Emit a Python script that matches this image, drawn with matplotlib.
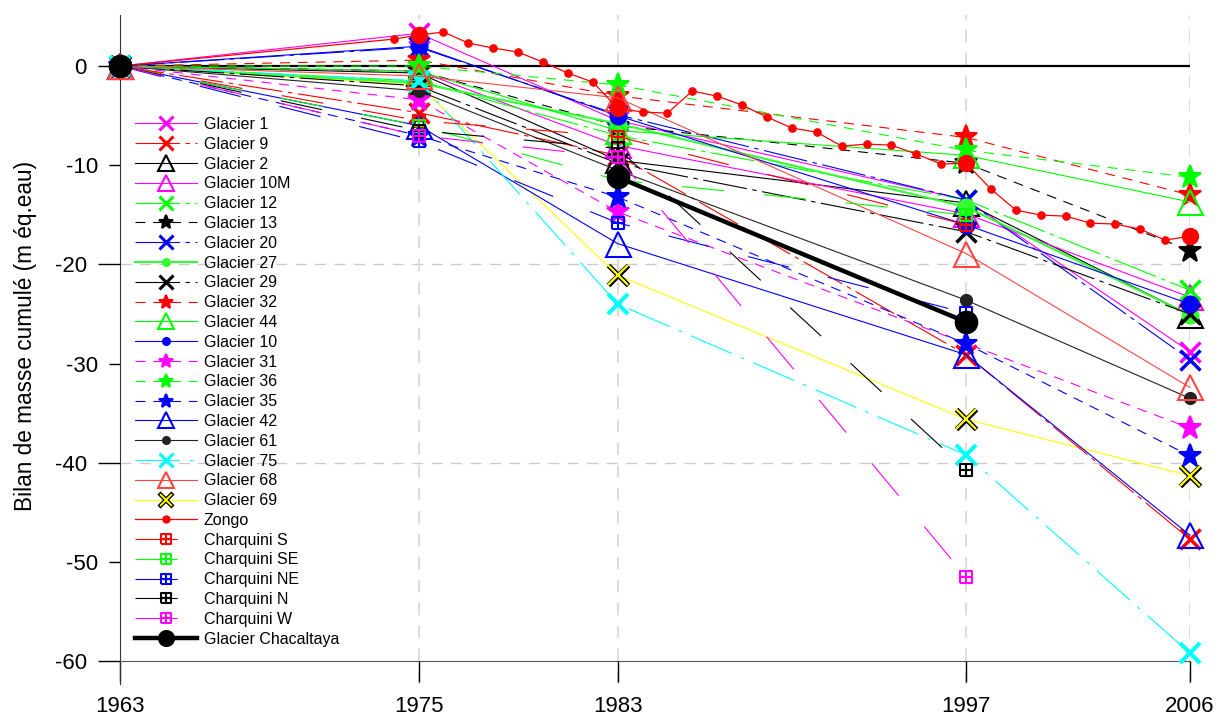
import numpy as np
import matplotlib.pyplot as plt
from matplotlib.lines import Line2D
from matplotlib.path import Path

years = [1963, 1975, 1983, 1997, 2006]
nan = np.nan

# cumulative mass balance (m w.e.) at survey years
g1 = [0, 3.3, -5.5, -13.5, -28.8]
g9 = [0, -4.7, -9.0, -29.1, -47.7]
g2 = [0, -0.7, -9.5, -13.8, -25.1]
g10m = [0, -0.5, -8.0, -14.9, -23.3]
g12 = [0, -1.5, -7.0, -13.5, -22.6]
g13 = [0, -0.5, -6.0, -9.8, -18.6]
g20 = [0, 1.9, -4.9, -13.5, -29.6]
g27 = [0, -1.7, -5.8, -14.2, -25.1]
g29 = [0, -2.0, -9.8, -16.7, -25.0]
g32 = [0, 0.6, -3.0, -7.2, -13.0]
g44 = [0, -0.5, -6.5, -9.0, -13.7]
g10 = [0, 2.0, -5.0, -16.0, -24.0]
g31 = [0, -3.4, -14.7, nan, -36.5]
g36 = [0, 0.0, -1.9, -8.5, -11.2]
g35 = [0, -7.0, -13.2, -28.0, -39.3]
g42 = [0, -6.0, -17.9, -29.1, -47.3]
g61 = [0, -2.5, -10.5, -23.6, -33.5]
g75 = [0, -1.5, -24.0, -39.2, -59.2]
g68 = [0, -1.0, -3.2, -18.9, -32.4]
g69 = [0, -1.9, -21.1, -35.6, -41.3]
charq_s = [0, -5.5, -7.1, -16.0, nan]
charq_se = [0, -6.0, -11.5, -15.0, nan]
charq_ne = [0, -7.6, -15.8, -24.9, nan]
charq_n = [0, -6.5, -8.3, -40.7, nan]
charq_w = [0, -7.0, -9.2, -51.5, nan]
chacaltaya = [0, nan, -11.2, -25.8, nan]

zongo_years = [1963] + list(range(1974, 2007))
zongo = [0, 2.72, 3.13, 3.43, 2.32, 1.82, 1.41, 0.40, -0.71, -1.61, -4.24,
         -4.64, -4.74, -2.52, -3.03, -3.93, -5.14, -6.25, -6.66, -8.07,
         -7.87, -7.97, -8.87, -9.88, -9.78, -12.40, -14.52, -15.02, -15.13,
         -15.83, -15.93, -16.44, -17.55, -17.14]

# square with a cross inside, for the Charquini glaciers
sq = Path([(-1, -1), (1, -1), (1, 1), (-1, 1), (-1, -1),
           (0, -1), (0, 1), (-1, 0), (1, 0)],
          [Path.MOVETO, Path.LINETO, Path.LINETO, Path.LINETO, Path.LINETO,
           Path.MOVETO, Path.LINETO, Path.MOVETO, Path.LINETO])

solid = '-'
longdash = (0, (40, 5, 4, 5))
dashed = (0, (9, 7))
dashdot = (0, (40, 9, 3, 9))
sparse = (0, (38, 36))

# label, values, color, linestyle, marker, size, lw
series = [
    ("Glacier 1", g1, "#FF00FF", solid, "x", 15, 0.8),
    ("Glacier 9", g9, "#FF0000", longdash, "x", 15, 0.8),
    ("Glacier 2", g2, "black", solid, "^", 18, 0.8),
    ("Glacier 10M", g10m, "#FF00FF", solid, "^", 18, 0.8),
    ("Glacier 12", g12, "#00FF00", longdash, "x", 15, 0.8),
    ("Glacier 13", g13, "black", dashed, "*", 17, 0.8),
    ("Glacier 20", g20, "#0000FF", longdash, "x", 15, 0.8),
    ("Glacier 27", g27, "#33FF33", solid, "o", 11.5, 1.5),
    ("Glacier 29", g29, "black", longdash, "x", 15, 0.8),
    ("Glacier 32", g32, "#FF0000", dashed, "*", 17, 0.8),
    ("Glacier 44", g44, "#00FF00", solid, "^", 18, 0.8),
    ("Glacier 10", g10, "#0000FF", solid, "o", 11.5, 0.8),
    ("Glacier 31", g31, "#FF00FF", dashed, "*", 17, 0.8),
    ("Glacier 36", g36, "#00FF00", dashed, "*", 17, 0.8),
    ("Glacier 35", g35, "#0000FF", dashed, "*", 17, 0.8),
    ("Glacier 42", g42, "#0000FF", solid, "^", 18, 0.8),
    ("Glacier 61", g61, "#222222", solid, "o", 8, 0.8),
    ("Glacier 75", g75, "#00FFFF", dashdot, "x", 15, 0.8),
    ("Glacier 68", g68, "#FF4444", solid, "^", 18, 0.8),
    ("Glacier 69", g69, "#FFFF00", solid, "x", 15, 0.8),
    ("Charquini S", charq_s, "#FF0000", sparse, sq, 8, 0.8),
    ("Charquini SE", charq_se, "#00FF00", sparse, sq, 8, 0.8),
    ("Charquini NE", charq_ne, "#0000FF", sparse, sq, 8, 0.8),
    ("Charquini N", charq_n, "black", sparse, sq, 8, 0.8),
    ("Charquini W", charq_w, "#FF00FF", sparse, sq, 8, 0.8),
]

# marker sizes used in the legend (smaller than on the plot)
legend_ms = {"x": 9.6, "^": 11.3, "*": 10, "o": 5}

plt.rcParams['font.family'] = ['Liberation Sans', 'DejaVu Sans']

fig = plt.figure(figsize=(12.23, 7.16), dpi=100)
ax = fig.add_axes([120 / 1223, 1 - 684 / 716, 1070 / 1223, 669 / 716])

ax.axhline(0, color="black", lw=1.6, zorder=1)
for yv in (-20, -40):
    ax.axhline(yv, color="#CCCCCC", lw=1, ls=(0, (8, 6)), zorder=0)
for xv in years[1:]:
    ax.axvline(xv, color="#DDDDDD", lw=1.5, ls=(0, (6, 5)), zorder=0)

handles = []
for name, vals, col, ls, mk, ms, lw in series:
    x = np.array(years, float)
    y = np.array(vals, float)
    ok = ~np.isnan(y)
    mew = 2.5 if mk == "x" else 1.5
    if col == "#00FFFF":
        mew = 3
    mfc = "none" if (mk == "^" or mk is sq) else col
    lms = 7.2 if mk is sq else legend_ms[mk]
    if name == "Glacier 69":
        # yellow cross outlined in black
        ax.plot(x[ok], y[ok], color=col, lw=lw, zorder=2.4)
        ax.plot(x[ok], y[ok], ls="none", marker="x", ms=ms, mec="black",
                mew=3.6, clip_on=False, zorder=2.5)
        ax.plot(x[ok], y[ok], ls="none", marker="x", ms=ms - 1, mec=col,
                mew=1.6, clip_on=False, zorder=2.6)
        handles.append((Line2D([], [], color=col, lw=lw),
                        Line2D([], [], ls="none", marker="x", ms=lms,
                               mec="black", mew=3.2),
                        Line2D([], [], ls="none", marker="x", ms=lms - 0.8,
                               mec=col, mew=1.4)))
        continue
    ax.plot(x[ok], y[ok], color=col, ls=ls, lw=lw, marker=mk, ms=ms,
            mfc=mfc, mec=col, mew=mew, clip_on=False, zorder=3)
    handles.append(Line2D([], [], color=col, ls=ls, lw=lw, marker=mk,
                          ms=lms, mfc=mfc, mec=col, mew=min(mew, 2.2)))

# Zongo: annual series, larger dots at the survey years
ax.plot(zongo_years, zongo, color="#FF0000", lw=0.9, marker="o", ms=5.2,
        clip_on=False, zorder=4)
zx = [yr for yr in zongo_years if yr in years]
zy = [v for yr, v in zip(zongo_years, zongo) if yr in years]
ax.plot(zx, zy, ls="none", marker="o", ms=11.5, color="#FF0000",
        clip_on=False, zorder=4)
handles.insert(20, Line2D([], [], color="#FF0000", lw=0.9, marker="o", ms=5))

# Chacaltaya
ax.plot(years, chacaltaya, color="black", lw=3.2, marker="o", ms=16,
        clip_on=False, zorder=5)
handles.append(Line2D([], [], color="black", lw=3.2, marker="o", ms=11.3))

labels = ([s[0] for s in series[:20]] + ["Zongo"]
          + [s[0] for s in series[20:]] + ["Glacier Chacaltaya"])

ax.legend(handles, labels, loc="upper left", bbox_to_anchor=(0.008, 0.857),
          frameon=False, fontsize=11.5, handlelength=3.9, handletextpad=0.4,
          labelspacing=0.3, borderaxespad=0)

ax.set_xlim(1963, 2006)
ax.set_ylim(-62.3, 5.15)
ax.set_xticks(years)
ax.set_yticks([0, -20, -40, -60])
ax.set_yticks([-10, -30, -50], minor=True)
ax.set_yticklabels(["0", "-20", "-40", "-60"])
ax.set_yticklabels(["-10", "-30", "-50"], minor=True)
ax.tick_params(axis="y", which="major", length=16, labelsize=16, width=1,
               pad=8)
ax.tick_params(axis="y", which="minor", length=8, labelsize=16, width=1,
               pad=8)
ax.tick_params(axis="x", length=15, labelsize=16, width=1, pad=10)
for s in ("top", "right"):
    ax.spines[s].set_visible(False)
ax.spines["bottom"].set_position(("data", -60))
ax.spines["bottom"].set_color("#555555")
ax.spines["left"].set_color("#333333")
ax.set_ylabel("Bilan de masse cumulé (m éq.eau)", fontsize=16.3)
ax.yaxis.set_label_coords(-0.078, 0.52)

fig.savefig("out.png", dpi=100)
